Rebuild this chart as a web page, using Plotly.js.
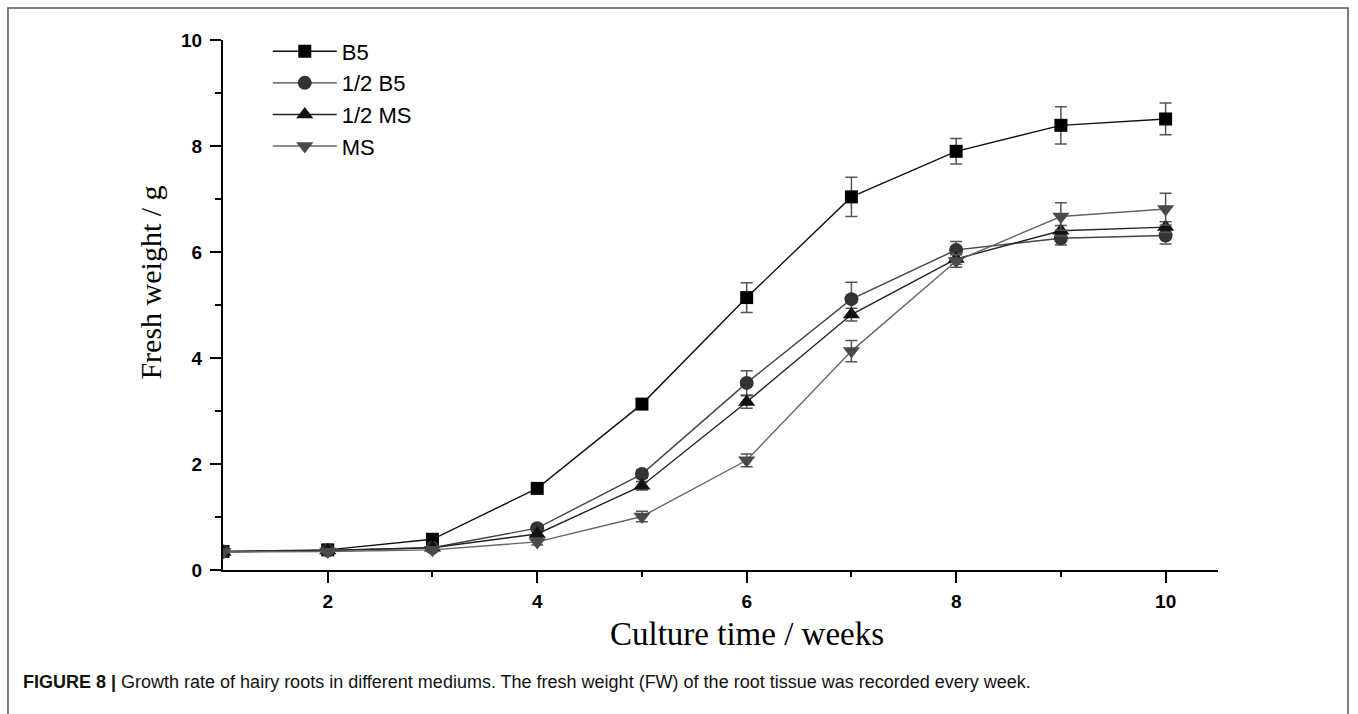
<!DOCTYPE html>
<html>
<head>
<meta charset="utf-8">
<script src="https://cdn.plot.ly/plotly-3.0.1.min.js"></script>
<style>html,body{margin:0;padding:0;background:#fff;}#chart{width:1358px;height:714px;}</style>
</head>
<body>
<div id="chart"></div>
<script>
const weeks = [1, 2, 3, 4, 5, 6, 7, 8, 9, 10];
const seriesNames = ["B5", "1/2 B5", "1/2 MS", "MS"];
const b5 = [0.35, 0.38, 0.58, 1.54, 3.13, 5.14, 7.04, 7.90, 8.39, 8.51];
const b5Err = [0.02, 0.03, 0.04, 0.06, 0.08, 0.28, 0.37, 0.24, 0.35, 0.30];
const halfB5 = [0.35, 0.37, 0.42, 0.79, 1.81, 3.53, 5.11, 6.04, 6.26, 6.31];
const halfB5Err = [0.02, 0.03, 0.03, 0.05, 0.08, 0.23, 0.32, 0.16, 0.13, 0.16];
const halfMS = [0.34, 0.37, 0.42, 0.68, 1.59, 3.17, 4.82, 5.87, 6.40, 6.47];
const halfMSErr = [0.02, 0.03, 0.03, 0.05, 0.08, 0.12, 0.12, 0.10, 0.10, 0.10];
const ms = [0.34, 0.35, 0.38, 0.53, 1.01, 2.07, 4.13, 5.83, 6.67, 6.81];
const msErr = [0.02, 0.03, 0.03, 0.06, 0.10, 0.12, 0.20, 0.12, 0.26, 0.30];
const yTickVals = [0, 2, 4, 6, 8, 10];
const xTickVals = [2, 4, 6, 8, 10];
const xTitle = "Culture time / weeks";
const yTitle = "Fresh weight / g";
const captionBold = "FIGURE 8 |";
const captionText = " Growth rate of hairy roots in different mediums. The fresh weight (FW) of the root tissue was recorded every week.";

function mk(name, y, err, symbol, mcolor, lcolor, size) {
  return {
    x: weeks, y: y, name: name, type: "scatter", mode: "lines+markers",
    line: {color: lcolor, width: 1.4},
    marker: {symbol: symbol, color: mcolor, size: size, line: {width: 0}},
    error_y: {type: "data", array: err, visible: true, color: "#555", thickness: 1.5, width: 6}
  };
}
const data = [
  mk(seriesNames[0], b5, b5Err, "square", "#000", "#111", 13),
  mk(seriesNames[1], halfB5, halfB5Err, "circle", "#333", "#444", 14),
  mk(seriesNames[2], halfMS, halfMSErr, "triangle-up", "#111", "#222", 15),
  mk(seriesNames[3], ms, msErr, "triangle-down", "#4a4a4a", "#666", 15)
];

const axisCommon = {
  showline: true, linecolor: "#000", linewidth: 2,
  ticks: "outside", ticklen: 11, tickwidth: 2, tickcolor: "#000",
  showgrid: false, zeroline: false,
  tickfont: {family: "Liberation Sans, Arial, sans-serif", size: 19, color: "#000", weight: "bold"}
};

const layout = {
  width: 1358, height: 714,
  margin: {l: 223, r: 140, t: 40, b: 144},
  paper_bgcolor: "#fff", plot_bgcolor: "#fff",
  showlegend: true,
  legend: {
    x: 0.045, y: 1.018, xanchor: "left", yanchor: "top",
    font: {family: "Liberation Sans, Arial, sans-serif", size: 22, color: "#000"},
    bgcolor: "rgba(0,0,0,0)", itemwidth: 64, itemsizing: "trace", tracegroupgap: 0
  },
  xaxis: Object.assign({}, axisCommon, {
    range: [1, 10.5], tickvals: xTickVals, ticklabelstandoff: 2,
    minor: {tickvals: [3, 5, 7, 9], ticks: "outside", ticklen: 5, tickwidth: 2, tickcolor: "#000"}
  }),
  yaxis: Object.assign({}, axisCommon, {
    range: [0, 10], tickvals: yTickVals, ticklabelstandoff: 4,
    minor: {tickvals: [1, 3, 5, 7, 9], ticks: "outside", ticklen: 6, tickwidth: 2, tickcolor: "#000"}
  }),
  annotations: [
    {text: xTitle, xref: "paper", yref: "paper", x: 0.5265, y: -0.12, xanchor: "center", yanchor: "middle",
     showarrow: false, font: {family: "Liberation Serif, Times New Roman, serif", size: 33, color: "#000"}},
    {text: yTitle, xref: "paper", yref: "paper", x: -0.073, y: 0.543, xanchor: "center", yanchor: "middle",
     textangle: -90, showarrow: false, font: {family: "Liberation Serif, Times New Roman, serif", size: 30, color: "#000"}},
    {text: "<b>" + captionBold + "</b>" + captionText, xref: "paper", yref: "paper",
     x: -0.2035, y: -0.212, xanchor: "left", yanchor: "middle", showarrow: false, align: "left",
     font: {family: "Liberation Sans, Arial, sans-serif", size: 18, color: "#111"}}
  ],
  shapes: [
    {type: "rect", xref: "paper", yref: "paper", x0: -0.2161, x1: 1.1307, y0: -0.30, y1: 1.0604,
     line: {color: "#555", width: 1.5}, fillcolor: "rgba(0,0,0,0)", layer: "below"}
  ]
};

Plotly.newPlot("chart", data, layout, {displayModeBar: false, staticPlot: true});
</script>
</body>
</html>
